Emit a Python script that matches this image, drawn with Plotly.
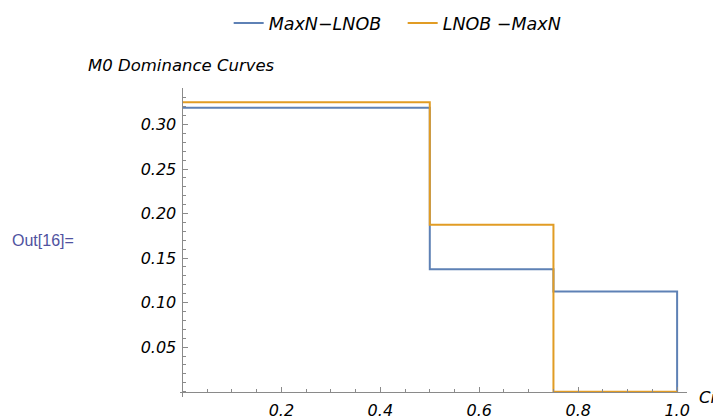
import plotly.graph_objects as go

# Data (step curves)
ci_blue = [0.0, 0.5, 0.75, 1.0, 1.0]
m0_blue = [0.3188, 0.1375, 0.1125, 0.1125, 0.0]
ci_orange = [0.0, 0.5, 0.75, 1.0]
m0_orange = [0.325, 0.1875, 0.0, 0.0]
series_names = ["MaxN\u2212LNOB", "LNOB \u2212MaxN"]
x_ticks = [0.2, 0.4, 0.6, 0.8, 1.0]
x_ticklabels = ["0.2", "0.4", "0.6", "0.8", "1.0"]
y_ticks = [0.05, 0.10, 0.15, 0.20, 0.25, 0.30]
y_ticklabels = ["0.05", "0.10", "0.15", "0.20", "0.25", "0.30"]

BLUE = "#5E81B5"
ORANGE = "#E19C24"
AXIS = "#8a8a8a"
FONT = "DejaVu Sans"

xr = [-0.005, 1.02]
yr = [-0.006, 0.341]

fig = go.Figure()
fig.add_trace(go.Scatter(x=ci_blue, y=m0_blue, mode="lines", line_shape="hv",
                         line=dict(color=BLUE, width=2), name=series_names[0]))
fig.add_trace(go.Scatter(x=ci_orange, y=m0_orange, mode="lines", line_shape="hv",
                         line=dict(color=ORANGE, width=2), name=series_names[1]))

tickfont = dict(family=FONT, size=16, color="black", style="italic")

fig.update_layout(
    width=713, height=419,
    margin=dict(l=180, r=26, t=88, b=22, autoexpand=False),
    paper_bgcolor="white", plot_bgcolor="white",
    showlegend=True,
    legend=dict(orientation="h", x=0.096, xanchor="left",
                yref="container", y=1 - 23 / 419, yanchor="middle",
                font=dict(family=FONT, size=17.5, color="black", style="italic"),
                entrywidth=129, entrywidthmode="pixels", traceorder="normal"),
    xaxis=dict(range=xr, showgrid=False, zeroline=False, showline=True, automargin=False,
               linecolor=AXIS, linewidth=1, anchor="free",
               position=(0 - yr[0]) / (yr[1] - yr[0]),
               ticks="inside", ticklen=5, tickcolor=AXIS, tickwidth=1,
               tickvals=x_ticks, ticktext=x_ticklabels, tickfont=tickfont,
               ticklabelstandoff=4,
               minor=dict(dtick=0.05, tick0=0, ticks="inside", ticklen=3,
                          tickcolor=AXIS, tickwidth=1, showgrid=False)),
    yaxis=dict(range=yr, showgrid=False, zeroline=False, showline=True, automargin=False,
               linecolor=AXIS, linewidth=1, anchor="free",
               position=(0 - xr[0]) / (xr[1] - xr[0]),
               ticks="inside", ticklen=5, tickcolor=AXIS, tickwidth=1,
               tickvals=y_ticks, ticktext=y_ticklabels, tickfont=tickfont,
               ticklabelstandoff=3,
               minor=dict(dtick=0.01, tick0=0, ticks="inside", ticklen=3,
                          tickcolor=AXIS, tickwidth=1, showgrid=False)),
    annotations=[
        dict(text="M0 Dominance Curves", xref="paper", yref="paper",
             x=-0.186, y=1.074, xanchor="left", yanchor="middle", showarrow=False,
             font=dict(family=FONT, size=16.5, color="black", style="italic")),
        dict(text="Out[16]=", xref="paper", yref="paper",
             x=-0.335, y=0.508, xanchor="left", yanchor="middle", showarrow=False,
             font=dict(family="Liberation Sans", size=16, color="#4F52A0")),
        dict(text="Ci", xref="paper", yref="paper",
             x=1.02, y=0.0, xanchor="left", yanchor="middle", showarrow=False,
             font=dict(family=FONT, size=16.5, color="black", style="italic")),
    ],
)

fig.write_html("out.html", config={"displayModeBar": False},
               post_script="document.body.style.margin='0';")
